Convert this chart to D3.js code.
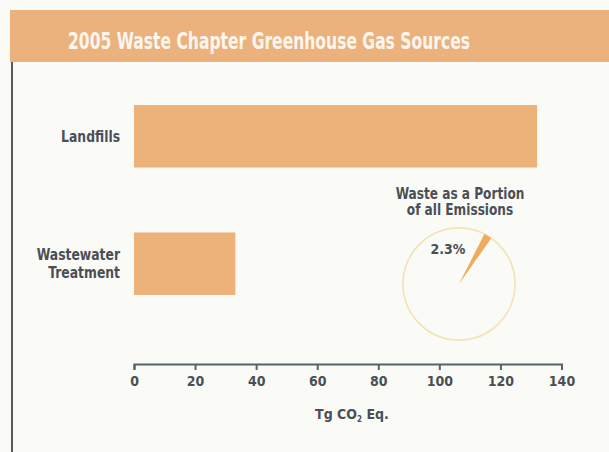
<!DOCTYPE html>
<html>
<head>
<meta charset="utf-8">
<script src="https://cdn.jsdelivr.net/npm/d3@7"></script>
<style>
  html, body { margin: 0; padding: 0; background: #fbfbf8; }
  svg { display: block; }
  text { font-family: "Liberation Sans Narrow", "DejaVu Sans Condensed", "Liberation Sans", sans-serif; font-weight: bold; }
</style>
</head>
<body>
<script>
const title = "2005 Waste Chapter Greenhouse Gas Sources";
const categories = [["Landfills"], ["Wastewater", "Treatment"]];
const categoryKeys = ["Landfills", "Wastewater Treatment"];
const values = [132.0, 33.2];
const tickValues = [0, 20, 40, 60, 80, 100, 120, 140];
const axisTitle = "Tg CO";
const pieTitle = ["Waste as a Portion", "of all Emissions"];
const pieShares = [2.3, 97.7];
const pieLabel = "2.3%";

const W = 609, H = 452;
const svg = d3.select("body").append("svg").attr("width", W).attr("height", H);

svg.append("rect").attr("x", 0).attr("y", 0).attr("width", W).attr("height", H).attr("fill", "#fafaf7");

// header band
svg.append("rect").attr("x", 10).attr("y", 10).attr("width", W - 10).attr("height", 52).attr("fill", "#ebb27e");
svg.append("text").attr("x", 269).attr("y", 49).attr("text-anchor", "middle")
  .attr("fill", "#fdf6ee").attr("font-size", 23)
  .attr("textLength", 402).attr("lengthAdjust", "spacingAndGlyphs")
  .text(title);

// left border
svg.append("line").attr("x1", 12).attr("x2", 12).attr("y1", 62).attr("y2", H)
  .attr("stroke", "#55595c").attr("stroke-width", 2);

const x = d3.scaleLinear().domain([0, 140]).range([134, 561.5]);
const y = d3.scaleBand().domain(categoryKeys).range([72.5, 327.5]).paddingInner(0.51).paddingOuter(0.255);

const barColor = "#ecb27a";
svg.selectAll("rect.bar").data(values).join("rect").attr("class", "bar")
  .attr("x", x(0)).attr("y", (d, i) => y(categoryKeys[i]))
  .attr("width", d => x(d) - x(0)).attr("height", y.bandwidth())
  .attr("fill", barColor);

// category labels
const labelColor = "#4a4f55";
const sx = 0.86;
categories.forEach((lines, i) => {
  const cy = y(categoryKeys[i]) + y.bandwidth() / 2;
  const lh = 18;
  const t = svg.append("text").attr("text-anchor", "end").attr("fill", labelColor).attr("font-size", 16)
    .attr("transform", `translate(120,${cy}) scale(${sx},1)`);
  lines.forEach((ln, j) => {
    t.append("tspan").attr("x", 0)
      .attr("y", 5.5 + (j - (lines.length - 1) / 2) * lh)
      .text(ln);
  });
});

// x axis
const axis = d3.axisBottom(x).tickValues(tickValues).tickSize(6).tickSizeOuter(6).tickPadding(6);
const gx = svg.append("g").attr("transform", "translate(0,364)").call(axis);
gx.select(".domain").attr("stroke", "#56636a").attr("stroke-width", 2);
gx.selectAll(".tick line").attr("stroke", "#56636a").attr("stroke-width", 2);
gx.selectAll(".tick text").attr("fill", labelColor).attr("font-size", 14)
  .attr("font-family", "'Liberation Sans Narrow', 'DejaVu Sans Condensed', sans-serif").attr("font-weight", "bold");

const at = svg.append("text").attr("x", 352).attr("y", 419).attr("text-anchor", "middle")
  .attr("fill", labelColor).attr("font-size", 14);
at.append("tspan").text(axisTitle);
at.append("tspan").attr("font-size", 8).attr("dy", 3).text("2");
at.append("tspan").attr("dy", -3).text(" Eq.");

// pie
const cx = 459, cyP = 284, r = 56;
const pie = d3.pie().sort(null).value(d => d).startAngle(0.47).endAngle(0.47 + 2 * Math.PI);
const arcs = pie(pieShares);
const arc = d3.arc().innerRadius(0).outerRadius(r);
const gp = svg.append("g").attr("transform", `translate(${cx},${cyP})`);
gp.append("circle").attr("r", r).attr("fill", "none").attr("stroke", "#f2e2b0").attr("stroke-width", 1.5);
gp.append("path").attr("d", arc(arcs[0])).attr("fill", "#eeac5c");

const pt = svg.append("text").attr("text-anchor", "middle").attr("fill", labelColor).attr("font-size", 15)
  .attr("transform", "translate(460,0) scale(0.9,1)");
pieTitle.forEach((ln, j) => pt.append("tspan").attr("x", 0).attr("y", 199 + j * 16).text(ln));
svg.append("text").attr("x", 448).attr("y", 254).attr("text-anchor", "middle")
  .attr("fill", labelColor).attr("font-size", 14).text(pieLabel);
</script>
</body>
</html>
